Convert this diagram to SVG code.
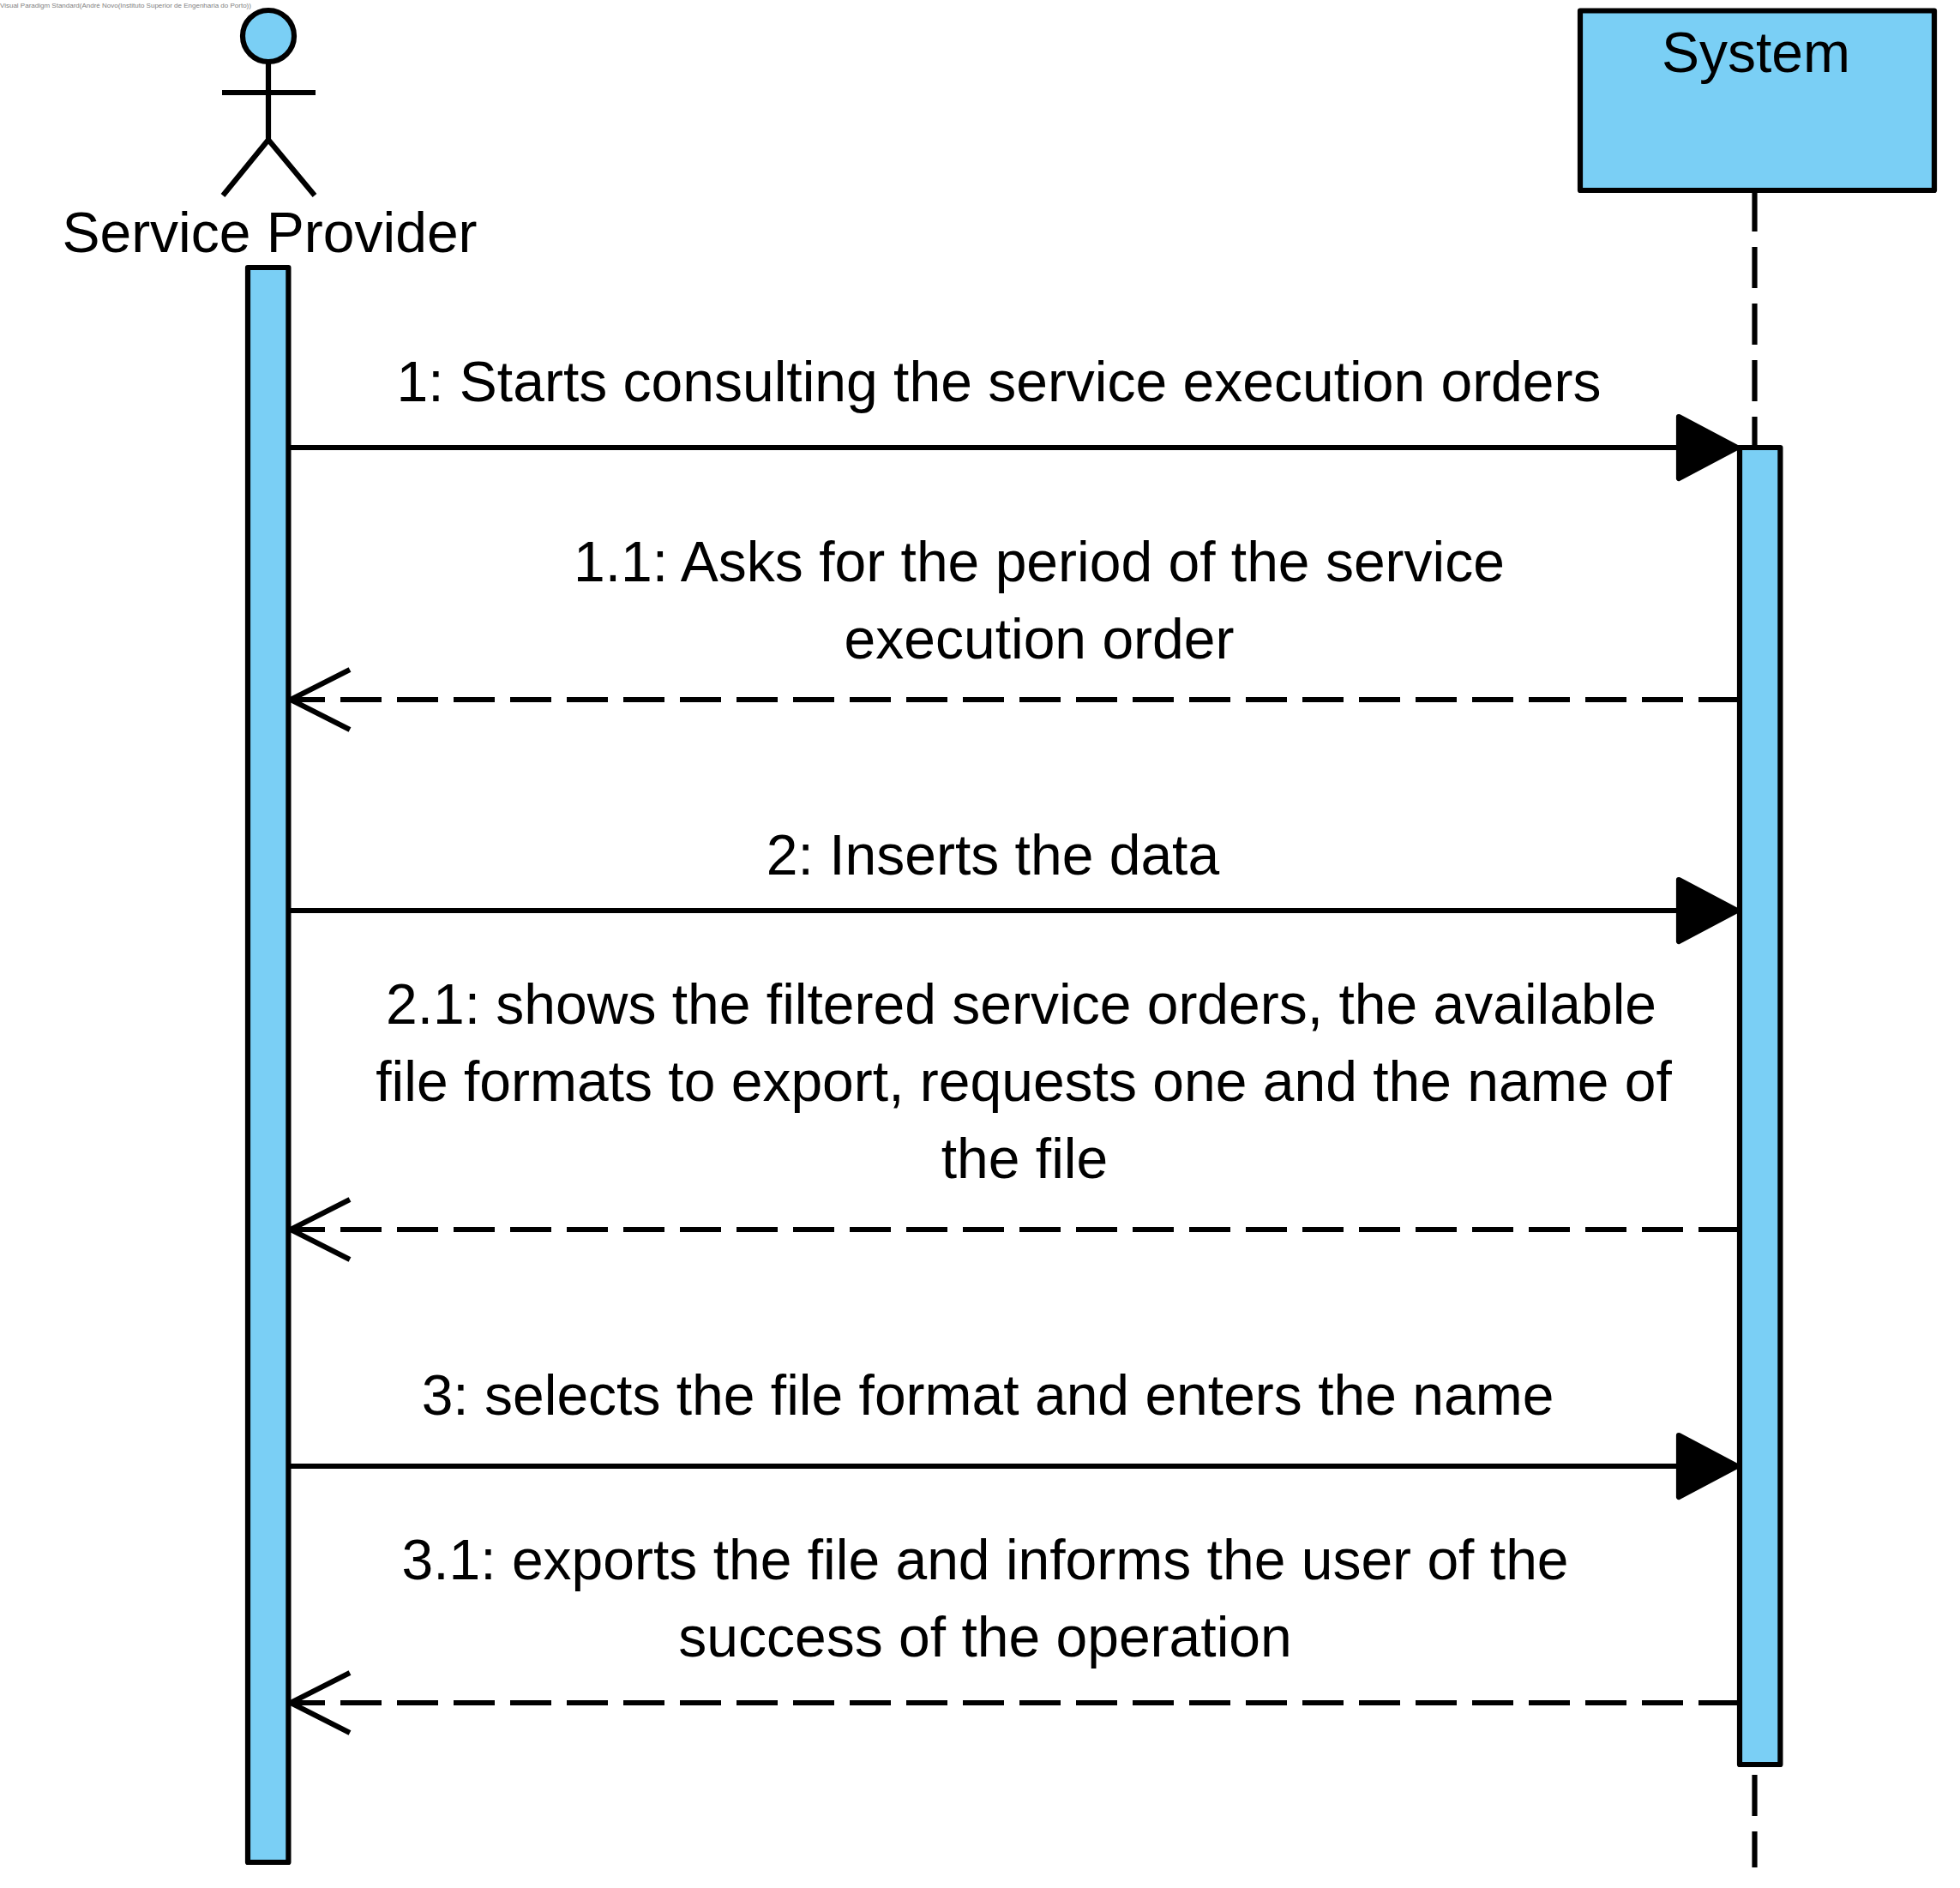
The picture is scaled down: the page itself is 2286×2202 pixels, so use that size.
<svg xmlns="http://www.w3.org/2000/svg" width="2286" height="2202" viewBox="0 0 2286 2202">
<style>
.s{stroke:#000;stroke-width:6.2;stroke-linejoin:round;fill:none}
.f{fill:#7ACFF5}
.t{font-family:"Liberation Sans",Arial,sans-serif;font-size:66px;fill:#000;text-anchor:middle}
.d{stroke-dasharray:48 18}
</style>
<defs>
<marker id="filled" markerUnits="userSpaceOnUse" markerWidth="90" markerHeight="90" refX="78" refY="45" orient="auto" overflow="visible"><path d="M6 9L74 45L6 81Z" fill="#000" stroke="#000" stroke-width="6.2" stroke-linejoin="round"/></marker>
<marker id="open" markerUnits="userSpaceOnUse" markerWidth="90" markerHeight="90" refX="79" refY="45" orient="auto" overflow="visible"><path d="M10 10L79 45L10 80" fill="none" stroke="#000" stroke-width="6.2" stroke-linejoin="round"/></marker>
</defs>
<rect width="2286" height="2202" fill="#fff"/>
<text x="0" y="9" font-family="Liberation Sans,Arial,sans-serif" font-size="8" fill="#808080">Visual Paradigm Standard(André Novo(Instituto Superior de Engenharia do Porto))</text>
<g id="system-lifeline"><line class="s d" x1="2046.5" y1="222" x2="2046.5" y2="2178"/></g>
<g id="actor-service-provider">
<circle class="s f" cx="313" cy="42" r="30"/>
<path class="s" d="M313 72V163M259 108H368M260 228L313 163L367 228"/>
<text class="t" x="314.5" y="293.5">Service Provider</text>
</g>
<g id="activation-provider"><rect class="s f" x="289" y="312" width="47.4" height="1860"/></g>
<g id="system">
<rect class="s f" x="1843" y="12.5" width="413" height="209.5"/>
<text class="t" x="2048" y="83.5">System</text>
</g>
<g id="activation-system"><rect class="s f" x="2029" y="522" width="47.4" height="1536"/></g>
<g id="connectors">
<line class="s" x1="339" y1="522" x2="2030" y2="522" marker-end="url(#filled)"/>
<line class="s d" x1="2029" y1="816" x2="339" y2="816" marker-end="url(#open)"/>
<line class="s" x1="339" y1="1062" x2="2030" y2="1062" marker-end="url(#filled)"/>
<line class="s d" x1="2029" y1="1434" x2="339" y2="1434" marker-end="url(#open)"/>
<line class="s" x1="339" y1="1710" x2="2030" y2="1710" marker-end="url(#filled)"/>
<line class="s d" x1="2029" y1="1986" x2="339" y2="1986" marker-end="url(#open)"/>
</g>
<g id="labels">
<text class="t" x="1165" y="468">1: Starts consulting the service execution orders</text>
<text class="t" x="1212" y="678">1.1: Asks for the period of the service</text>
<text class="t" x="1212" y="768">execution order</text>
<text class="t" x="1158" y="1020">2: Inserts the data</text>
<text class="t" x="1191" y="1194">2.1: shows the filtered service orders, the available</text>
<text class="t" x="1194" y="1284">file formats to export, requests one and the name of</text>
<text class="t" x="1195" y="1374">the file</text>
<text class="t" x="1152" y="1650">3: selects the file format and enters the name</text>
<text class="t" x="1149" y="1842">3.1: exports the file and informs the user of the</text>
<text class="t" x="1149" y="1932">success of the operation</text>
</g>
</svg>
